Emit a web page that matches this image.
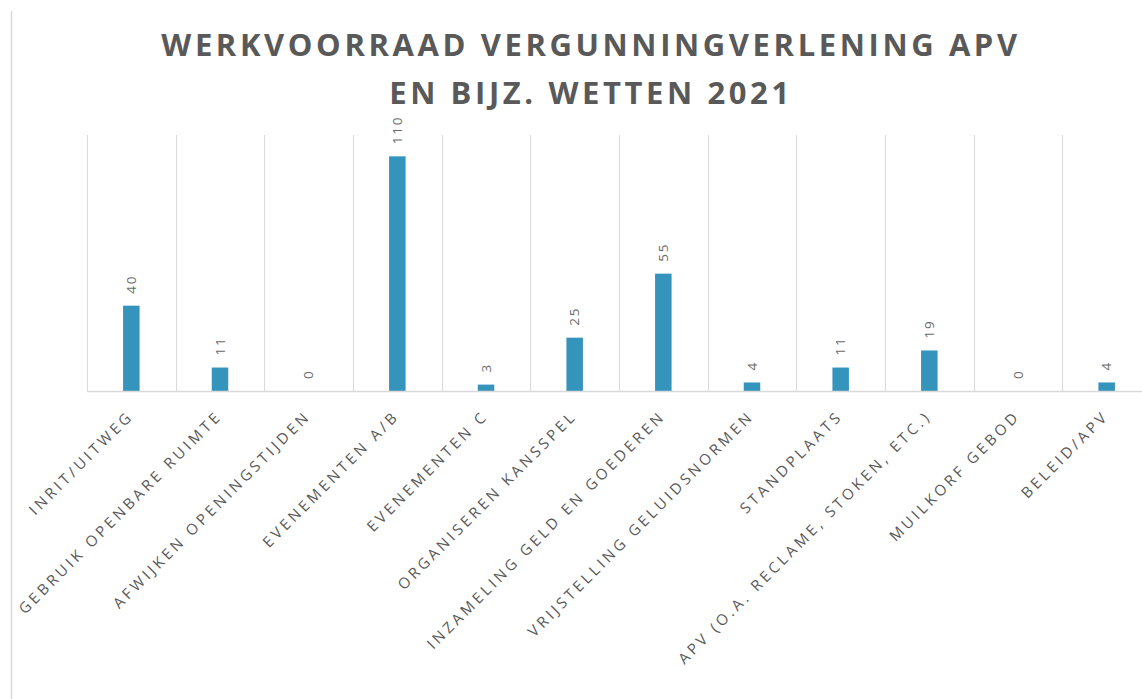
<!DOCTYPE html>
<html>
<head>
<meta charset="utf-8">
<script src="https://cdn.jsdelivr.net/npm/d3@7"></script>
<style>
  html, body { margin: 0; padding: 0; background: #fff; }
  svg { display: block; }
</style>
</head>
<body>
<div id="container"></div>
<script>
"use strict";

const width = 1142;
const height = 699;

const titleLines = ["WERKVOORRAAD VERGUNNINGVERLENING APV", "EN BIJZ. WETTEN 2021"];

const categories = [
  "INRIT/UITWEG",
  "GEBRUIK OPENBARE RUIMTE",
  "AFWIJKEN OPENINGSTIJDEN",
  "EVENEMENTEN A/B",
  "EVENEMENTEN C",
  "ORGANISEREN KANSSPEL",
  "INZAMELING GELD EN GOEDEREN",
  "VRIJSTELLING GELUIDSNORMEN",
  "STANDPLAATS",
  "APV (O.A. RECLAME, STOKEN, ETC.)",
  "MUILKORF GEBOD",
  "BELEID/APV",
];

const values = [40, 11, 0, 110, 3, 25, 55, 4, 11, 19, 0, 4];

const barColor = "#3494bb";
const gridColor = "#d9d9d9";
const textColor = "#595959";

const plotLeft = 87;
const plotRight = 1151;
const plotTop = 135;
const plotBottom = 391;

const svg = d3
  .select("#container")
  .append("svg")
  .attr("width", width)
  .attr("height", height);

// chart border on the left side
svg
  .append("line")
  .attr("x1", 11.5)
  .attr("x2", 11.5)
  .attr("y1", 11)
  .attr("y2", height)
  .attr("stroke", gridColor)
  .attr("stroke-width", 1.5);

const xScale = d3
  .scaleBand()
  .domain(categories)
  .range([plotLeft, plotRight]);

const yScale = d3
  .scaleLinear()
  .domain([0, 120])
  .range([plotBottom, plotTop]);

// vertical gridlines between categories
svg
  .selectAll(".grid")
  .data(categories)
  .enter()
  .append("line")
  .attr("class", "grid")
  .attr("x1", (d) => Math.round(xScale(d)) + 0.5)
  .attr("x2", (d) => Math.round(xScale(d)) + 0.5)
  .attr("y1", yScale(120))
  .attr("y2", yScale(0))
  .attr("stroke", gridColor)
  .attr("stroke-width", 1);

const barWidth = 16.5;

svg
  .selectAll(".bar")
  .data(values)
  .enter()
  .append("rect")
  .attr("class", "bar")
  .attr("x", (d, i) => xScale(categories[i]) + xScale.bandwidth() / 2 - barWidth / 2)
  .attr("y", (d) => yScale(d))
  .attr("width", barWidth)
  .attr("height", (d) => yScale(0) - yScale(d))
  .attr("fill", barColor);

// baseline
svg
  .append("line")
  .attr("x1", plotLeft)
  .attr("x2", plotRight)
  .attr("y1", yScale(0) + 0.5)
  .attr("y2", yScale(0) + 0.5)
  .attr("stroke", gridColor)
  .attr("stroke-width", 1.5);

// data labels
svg
  .selectAll(".value")
  .data(values)
  .enter()
  .append("text")
  .attr("class", "value")
  .attr(
    "transform",
    (d, i) =>
      `translate(${xScale(categories[i]) + xScale.bandwidth() / 2 + 4.5}, ${yScale(d) - 12}) rotate(-90)`
  )
  .attr("text-anchor", "start")
  .style("font-family", "'Open Sans', sans-serif")
  .style("font-size", "13.5px")
  .style("letter-spacing", "1.8px")
  .style("fill", "#6a6a6a")
  .text((d) => d);

// category labels
svg
  .selectAll(".cat")
  .data(categories)
  .enter()
  .append("text")
  .attr("class", "cat")
  .attr(
    "transform",
    (d) => `translate(${xScale(d) + xScale.bandwidth() / 2 + 3}, ${plotBottom + 26}) rotate(-45)`
  )
  .attr("text-anchor", "end")
  .style("font-family", "'Open Sans', sans-serif")
  .style("font-size", "15px")
  .style("letter-spacing", "3.4px")
  .style("fill", textColor)
  .text((d) => d);

// title
svg
  .selectAll(".title")
  .data(titleLines)
  .enter()
  .append("text")
  .attr("class", "title")
  .attr("x", 591)
  .attr("y", (d, i) => 56 + i * 48)
  .attr("text-anchor", "middle")
  .style("font-family", "'Open Sans', sans-serif")
  .style("font-weight", "bold")
  .style("font-size", "31px")
  .style("letter-spacing", "3.6px")
  .style("fill", textColor)
  .text((d) => d);
</script>
</body>
</html>
